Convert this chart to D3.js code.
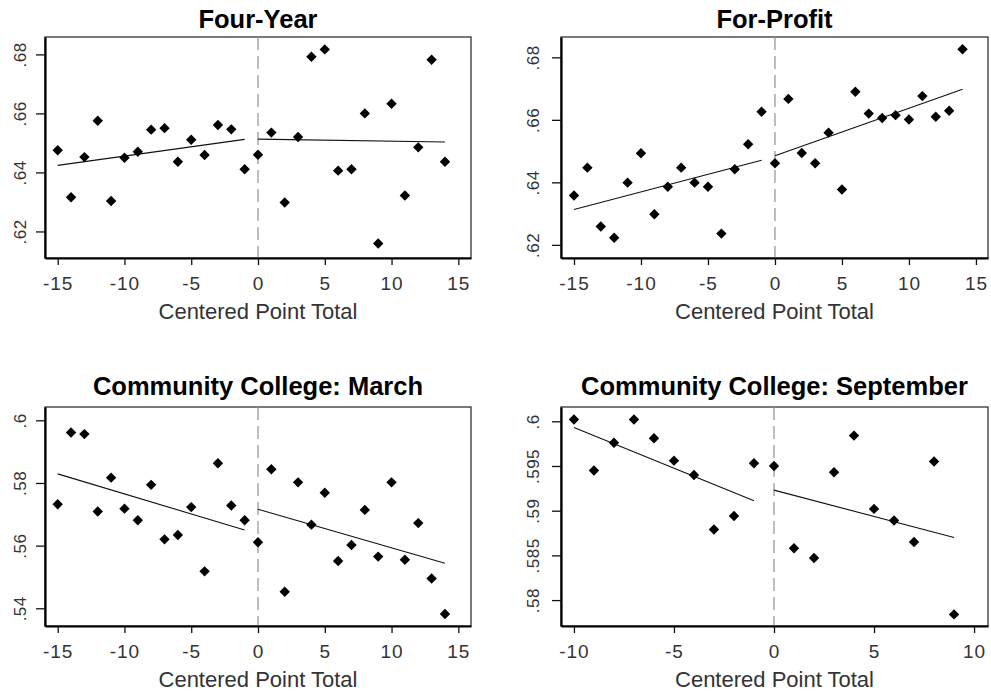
<!DOCTYPE html>
<html>
<head>
<meta charset="utf-8">
<script src="https://cdn.jsdelivr.net/npm/d3@7"></script>
<style>
  html, body { margin: 0; padding: 0; background: #fff; }
  svg { display: block; font-family: "Liberation Sans", Arial, sans-serif; }
</style>
</head>
<body>
<svg id="chart" width="991" height="696"></svg>
<script>
// Running variable (centered point total)
const pointsWide = [-15, -14, -13, -12, -11, -10, -9, -8, -7, -6, -5, -4, -3, -2, -1,
                    0, 1, 2, 3, 4, 5, 6, 7, 8, 9, 10, 11, 12, 13, 14];
const pointsSept = [-10, -9, -8, -7, -6, -5, -4, -3, -2, -1, 0, 1, 2, 3, 4, 5, 6, 7, 8, 9];

// Bin means
const fourYear = [0.6475, 0.6316, 0.6452, 0.6575, 0.6303, 0.6450, 0.6470, 0.6545, 0.6550, 0.6436,
                  0.6511, 0.6459, 0.6561, 0.6546, 0.6411, 0.6460, 0.6535, 0.6298, 0.6520, 0.6792,
                  0.6817, 0.6406, 0.6411, 0.6600, 0.6159, 0.6633, 0.6322, 0.6485, 0.6782, 0.6436];
const forProfit = [0.6358, 0.6447, 0.6259, 0.6223, 0.6399, 0.6493, 0.6298, 0.6386, 0.6447, 0.6399,
                   0.6386, 0.6236, 0.6442, 0.6522, 0.6626, 0.6461, 0.6667, 0.6494, 0.6461, 0.6559,
                   0.6377, 0.6690, 0.6620, 0.6606, 0.6615, 0.6601, 0.6676, 0.6610, 0.6629, 0.6826];
const ccMarch = [0.5732, 0.5961, 0.5956, 0.5709, 0.5817, 0.5718, 0.5681, 0.5794, 0.5620, 0.5634,
                 0.5723, 0.5518, 0.5863, 0.5728, 0.5681, 0.5611, 0.5844, 0.5453, 0.5802, 0.5667,
                 0.5769, 0.5551, 0.5602, 0.5714, 0.5565, 0.5802, 0.5555, 0.5672, 0.5495, 0.5382];
const ccSept = [0.6002, 0.5945, 0.5976, 0.6002, 0.5981, 0.5956, 0.5940, 0.5879, 0.5894, 0.5953,
                0.5950, 0.5858, 0.5847, 0.5943, 0.5984, 0.5902, 0.5889, 0.5865, 0.5955, 0.5784];

// Fitted lines on each side of the cutoff: [x0, y0, x1, y1]
const fourYearFitBelow = [-15, 0.6424, -1, 0.6512];
const fourYearFitAbove = [0, 0.6513, 14, 0.6503];
const forProfitFitBelow = [-15, 0.6313, -1, 0.6471];
const forProfitFitAbove = [0, 0.6485, 14, 0.6698];
const ccMarchFitBelow = [-15, 0.5829, -1, 0.5650];
const ccMarchFitAbove = [0, 0.5716, 14, 0.5544];
const ccSeptFitBelow = [-10, 0.5993, -1, 0.5911];
const ccSeptFitAbove = [0, 0.5923, 9, 0.5870];

// Axis ticks
const xTicksWide = [-15, -10, -5, 0, 5, 10, 15];
const xTicksSept = [-10, -5, 0, 5, 10];
const yTicksFourYear = [0.62, 0.64, 0.66, 0.68];
const yTicksForProfit = [0.62, 0.64, 0.66, 0.68];
const yTicksMarch = [0.54, 0.56, 0.58, 0.6];
const yTicksSept = [0.58, 0.585, 0.59, 0.595, 0.6];

const titles = ["Four-Year", "For-Profit", "Community College: March", "Community College: September"];
const xAxisTitle = "Centered Point Total";

const panels = [
  { title: titles[0], xs: pointsWide, ys: fourYear, fits: [fourYearFitBelow, fourYearFitAbove],
    xTicks: xTicksWide, yTicks: yTicksFourYear,
    xDomain: [-15.95, 15.95], yDomain: [0.6110, 0.6859],
    left: 45, right: 471, top: 37, bottom: 258, titleY: 28, labelOff: 19 },
  { title: titles[1], xs: pointsWide, ys: forProfit, fits: [forProfitFitBelow, forProfitFitAbove],
    xTicks: xTicksWide, yTicks: yTicksForProfit,
    xDomain: [-15.97, 15.90], yDomain: [0.6158, 0.6865],
    left: 561, right: 988, top: 37, bottom: 258, titleY: 28, labelOff: 22 },
  { title: titles[2], xs: pointsWide, ys: ccMarch, fits: [ccMarchFitBelow, ccMarchFitAbove],
    xTicks: xTicksWide, yTicks: yTicksMarch,
    xDomain: [-15.95, 15.95], yDomain: [0.53435, 0.60425],
    left: 45, right: 471, top: 407, bottom: 626, titleY: 395, labelOff: 19 },
  { title: titles[3], xs: pointsSept, ys: ccSept, fits: [ccSeptFitBelow, ccSeptFitAbove],
    xTicks: xTicksSept, yTicks: yTicksSept,
    xDomain: [-10.647, 10.697], yDomain: [0.5771, 0.6016],
    left: 561, right: 988, top: 407, bottom: 626, titleY: 395, labelOff: 22 }
];

const svg = d3.select("#chart");
svg.append("rect").attr("width", 991).attr("height", 696).attr("fill", "#fff");

const fmtY = v => String(v).replace(/^0/, "");
const diamond = r => `M0,${-r}L${r},0L0,${r}L${-r},0Z`;

panels.forEach(p => {
  const x = d3.scaleLinear().domain(p.xDomain).range([p.left, p.right]);
  const y = d3.scaleLinear().domain(p.yDomain).range([p.bottom, p.top]);
  const g = svg.append("g");
  const cx = (p.left + p.right) / 2;

  // plot region outline
  g.append("rect")
    .attr("x", p.left).attr("y", p.top)
    .attr("width", p.right - p.left).attr("height", p.bottom - p.top)
    .attr("fill", "none").attr("stroke", "#222").attr("stroke-width", 1.2);

  // cutoff reference line
  g.append("line")
    .attr("x1", x(0)).attr("x2", x(0))
    .attr("y1", p.top).attr("y2", p.bottom)
    .attr("stroke", "#999").attr("stroke-width", 1.3)
    .attr("stroke-dasharray", "13,6");

  // fitted lines
  p.fits.forEach(f => {
    g.append("line")
      .attr("x1", x(f[0])).attr("y1", y(f[1]))
      .attr("x2", x(f[2])).attr("y2", y(f[3]))
      .attr("stroke", "#111").attr("stroke-width", 1.1);
  });

  // bin means
  g.selectAll("path.pt")
    .data(p.xs.map((v, i) => [v, p.ys[i]]))
    .join("path")
    .attr("class", "pt")
    .attr("d", diamond(5.2))
    .attr("transform", d => `translate(${x(d[0])},${y(d[1])})`)
    .attr("fill", "#000");

  // x axis
  const xa = g.append("g")
    .attr("transform", `translate(0,${p.bottom})`)
    .call(d3.axisBottom(x).tickValues(p.xTicks).tickSize(7).tickSizeOuter(0).tickFormat(d3.format("d")));
  xa.select(".domain").attr("stroke", "#000").attr("stroke-width", 2.2);
  xa.selectAll(".tick line").attr("stroke", "#111").attr("stroke-width", 1.3);
  xa.selectAll(".tick text")
    .attr("y", 32).attr("dy", null)
    .attr("fill", "#333")
    .style("font-size", "19px")
    .style("font-family", "'Liberation Sans', Arial, sans-serif")
    .style("letter-spacing", "1px")
    .text(d => d3.format("d")(d).replace("−", "-"));

  // y axis
  const ya = g.append("g")
    .attr("transform", `translate(${p.left},0)`)
    .call(d3.axisLeft(y).tickValues(p.yTicks).tickSize(9).tickSizeOuter(0).tickFormat(fmtY));
  ya.select(".domain").attr("stroke", "#000").attr("stroke-width", 2.2);
  ya.selectAll(".tick line").attr("stroke", "#111").attr("stroke-width", 1.3);
  ya.selectAll(".tick text")
    .attr("x", null).attr("dy", null)
    .attr("text-anchor", "middle")
    .attr("transform", `translate(${-p.labelOff},0) rotate(-90)`)
    .attr("fill", "#333")
    .style("font-size", "17px")
    .style("font-family", "'Liberation Sans', Arial, sans-serif")
    .style("letter-spacing", "0.5px");

  // axis title
  g.append("text")
    .attr("x", cx).attr("y", p.bottom + 61)
    .attr("text-anchor", "middle")
    .attr("fill", "#333")
    .style("font-size", "22px")
    .text(xAxisTitle);

  // panel title
  g.append("text")
    .attr("x", cx).attr("y", p.titleY)
    .attr("text-anchor", "middle")
    .attr("fill", "#000")
    .style("font-size", "25.5px")
    .style("font-weight", "bold")
    .text(p.title);
});
</script>
</body>
</html>
